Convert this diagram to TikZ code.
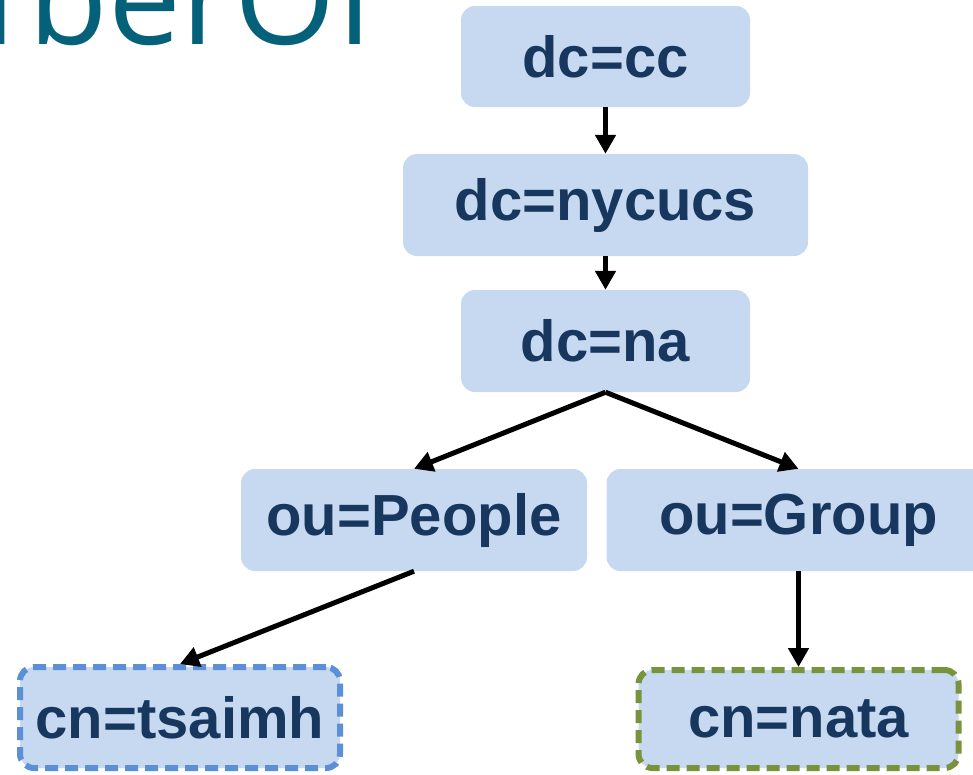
\documentclass[tikz,border=0pt]{standalone}
\usepackage{fontspec}
\setmainfont{Liberation Sans}
\newfontfamily\titlefont{Open Sans}
\usetikzlibrary{arrows.meta}
\definecolor{boxfill}{HTML}{C6D9F0}
\definecolor{boxtext}{HTML}{17375E}
\definecolor{blueedge}{HTML}{5B8FD6}
\definecolor{greenedge}{HTML}{77933C}
\definecolor{teal}{HTML}{05617A}
\tikzset{
  dnbox/.style={fill=boxfill, rounded corners=14pt, inner sep=0pt, text=boxtext,
    font=\fontsize{58}{60}\selectfont\bfseries, align=center},
  dashblue/.style={dnbox, draw=blueedge, line width=6pt, dash pattern=on 13pt off 7pt},
  dashgreen/.style={dnbox, draw=greenedge, line width=6pt, dash pattern=on 13pt off 7pt},
  link/.style={line width=5pt, -{Triangle[length=19pt,width=20pt]}},
}
\begin{document}
\begin{tikzpicture}[x=1pt,y=1pt]
\useasboundingbox (0,0) rectangle (973,-774);
\clip (0,0) rectangle (973,-774);
\node[anchor=base west, text=teal, inner sep=0pt, font=\titlefont\fontsize{130}{135}\selectfont] (title) at (-65,-44) {n\kern14pt berOf};
\node[dnbox, minimum width=289pt, minimum height=101pt] (cc) at (605.5,-56.5) {dc=cc};
\node[dnbox, minimum width=405pt, minimum height=102pt] (nycucs) at (605.5,-205) {dc=nycucs};
\node[dnbox, minimum width=289pt, minimum height=102pt] (na) at (605.5,-341) {dc=na};
\node[dnbox, minimum width=346pt, minimum height=102pt] (people) at (414,-520) {ou=People};
\node[dnbox, minimum width=384pt, minimum height=102pt] (group) at (798.5,-520) {ou=Group};
\node[dashblue, minimum width=320pt, minimum height=101pt] (tsaimh) at (180,-717.5) {cn=tsaimh};
\node[dashgreen, minimum width=320pt, minimum height=98pt] (nata) at (798.5,-719) {cn=nata};
\draw[link] (cc.south) -- (nycucs.north);
\draw[link] (nycucs.south) -- (na.north);
\draw[link] (na.south) -- (people.north);
\draw[link] (na.south) -- (group.north);
\draw[link] (people.south) -- (tsaimh.north);
\draw[link] (group.south) -- (nata.north);
\end{tikzpicture}
\end{document}
